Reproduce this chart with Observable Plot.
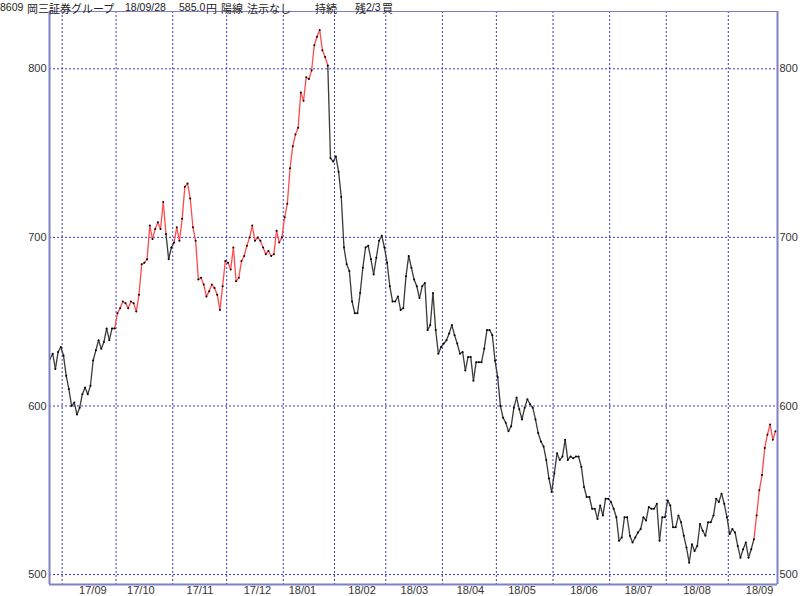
<!DOCTYPE html>
<html><head><meta charset="utf-8">
<script src="https://cdn.jsdelivr.net/npm/d3@7"></script>
<script src="https://cdn.jsdelivr.net/npm/@observablehq/plot@0.6"></script>
<style>
html,body{margin:0;padding:0;background:#fff;}
#wrap{position:relative;width:800px;height:596px;overflow:hidden;}
#title{position:absolute;left:0;top:0;width:800px;height:12px;color:#222;}
#title span{position:absolute;top:0;white-space:pre;line-height:11px;}
#title span.a{font:10.5px "Liberation Sans",Arial,sans-serif;top:0.5px;}
#title span.j{font:11px "Noto Sans CJK JP",sans-serif;}
</style></head><body>
<div id="wrap"><div id="chart"></div><div id="title"></div></div>
<script>
// daily closes (trading-day index 0 = 2017/08/25 ... 269 = 2018/09/28)
const closes = [
628,631,622,632,635,630,618,610,600,602,595,599,607,611,607,612,627,633,639,634,
638,646,639,646,646,655,658,662,661,658,662,661,656,666,684,685,687,707,699,705,
709,705,721,702,687,694,697,706,698,711,730,732,723,706,698,675,676,672,665,668,
672,670,666,657,671,686,685,681,694,674,676,686,689,695,700,707,698,700,698,694,
690,692,689,690,704,697,700,712,720,741,754,761,765,786,781,795,794,799,814,819,
823,811,807,802,747,745,748,739,724,694,684,680,662,655,655,667,682,694,695,687,
678,688,698,701,694,685,671,662,662,665,657,658,677,689,682,675,671,664,671,673,
645,648,667,645,631,635,637,639,643,648,642,637,631,632,621,629,629,615,626,626,
626,634,645,645,642,627,617,600,593,590,585,588,599,605,598,592,599,604,601,599,
592,584,579,576,568,557,549,560,572,568,570,580,568,570,569,570,570,564,552,546,
546,539,539,533,541,535,545,545,543,539,534,520,522,534,534,523,519,522,525,527,
534,532,540,539,539,542,520,534,534,544,541,528,528,535,531,523,516,507,518,514,
517,530,526,523,531,531,535,545,543,548,542,534,524,527,525,517,510,515,519,510,
515,521,535,550,559,575,583,589,580,585
];
// index of first trading day of each month (gridlines)
const monthStarts = [5,25,46,66,87,106,125,146,166,187,208,229,252];
const monthLabels = ["17/09","17/10","17/11","17/12","18/01","18/02","18/03","18/04","18/05","18/06","18/07","18/08","18/09"];
// index position of each month label (around mid-month)
const labelPos = [15.9,33.7,55.6,76.9,93.6,115.7,135.1,155.9,175.0,198.0,218.2,239.9,263.1];
// index ranges drawn in red
const redRanges = [[24,43],[46,103],[261,269]];
const yTicks = [500,600,700,800];
const titleTexts = ["8609","岡三証券グループ","18/09/28","585.0","円","陽線","法示なし","持続","残","2/3","買"];

// ---- layout ----
const titleLeft = [0,27,125,179,206,221,247,315,355,366,382];
const titleFont = ["a","j","a","a","j","j","j","j","j","a","j"];
const xDomain = [-0.185, 269.74];
const yDomain = [494.1, 834];
const gridColor = "#3a3ac0";
const frameColor = "#8080c4";

const pts = closes.map((v,i)=>({i, v}));
const isRed = (a,b) => redRanges.some(([s,e]) => a>=s && b<=e);
const segs = [];
for (let k=0;k<closes.length-1;k++) segs.push({x1:k,y1:closes[k],x2:k+1,y2:closes[k+1],red:isRed(k,k+1)});

const chart = Plot.plot({
  width: 800, height: 596,
  marginLeft: 49, marginRight: 23, marginTop: 11, marginBottom: 12,
  style: {fontFamily: "'Liberation Sans', Arial, sans-serif", fontSize: "11px", background: "#fff", overflow: "visible"},
  x: {type: "linear", domain: xDomain, axis: null},
  y: {type: "linear", domain: yDomain, axis: null},
  marks: [
    Plot.ruleY(yTicks, {stroke: gridColor, strokeWidth: 1, strokeDasharray: "2,2"}),
    Plot.ruleX(monthStarts, {x: d => d - 0.5, stroke: gridColor, strokeWidth: 1, strokeDasharray: "2,2"}),
    Plot.link(segs.filter(d=>!d.red), {x1:"x1",y1:"y1",x2:"x2",y2:"y2", stroke:"#3a3a3a", strokeWidth:1.3}),
    Plot.link(segs.filter(d=>d.red), {x1:"x1",y1:"y1",x2:"x2",y2:"y2", stroke:"#ff4a4a", strokeWidth:1.3}),
    Plot.dot(pts, {x:"i", y:"v", r:1, fill:"#000", stroke:null}),
    Plot.ruleX([xDomain[0]], {stroke: frameColor, strokeWidth: 2}),
    Plot.ruleX([xDomain[1]], {stroke: frameColor, strokeWidth: 2}),
    Plot.ruleY([yDomain[0]], {stroke: frameColor, strokeWidth: 2}),
    Plot.ruleY([yDomain[1]], {stroke: frameColor, strokeWidth: 1}),
    Plot.text(yTicks, {y: d=>d, text: d=>String(d), frameAnchor:"left", textAnchor:"end", dx:-3, fill:"#333"}),
    Plot.text(yTicks, {y: d=>d, text: d=>String(d), frameAnchor:"right", textAnchor:"start", dx:2, fill:"#333"}),
    Plot.text(monthLabels, {x: (d,i)=>labelPos[i], text: d=>d, frameAnchor:"bottom", lineAnchor:"middle", dy:6, fill:"#333"})
  ]
});
document.getElementById("chart").appendChild(chart);
const t = document.getElementById("title");
titleTexts.forEach((s,k)=>{const sp=document.createElement("span");sp.textContent=s;sp.className=titleFont[k];sp.style.left=titleLeft[k]+"px";t.appendChild(sp);});
</script>
</body></html>
